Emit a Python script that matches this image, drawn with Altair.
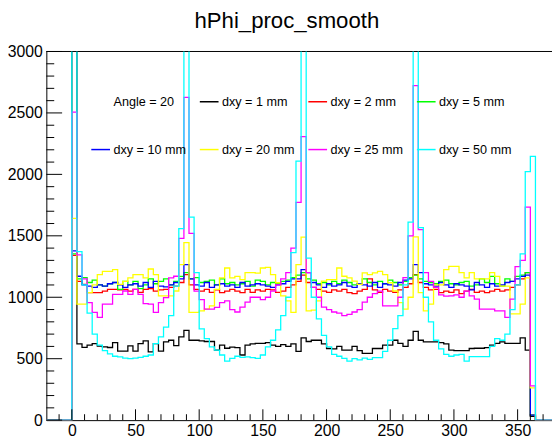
import altair as alt
import pandas as pd

# ---- data (bin contents, 4-degree bins starting at 0) ----
bin_width = 4
x_lo, x_hi = -20, 380

black = [3500,
 620, 592, 610, 622, 602, 596, 591, 631, 562, 562, 604, 562, 623, 645, 556, 623, 562, 637, 650, 607, 677,
 730,
 650, 650, 645, 640, 640, 570, 610, 585, 595, 590, 530, 610, 620, 625, 625, 630, 610, 600, 615, 600, 620, 560,
 669,
 640, 650, 650, 620, 583, 580, 600, 570, 570, 600, 565, 543, 543, 583, 583, 610, 610, 650, 625, 600, 650,
 722,
 650, 637, 637, 637, 630, 620, 570, 565, 565, 565, 583, 585, 585, 590, 610, 625, 637, 625, 625, 625, 669,
 570, 30]

red = [1340,
 1130, 1104, 1037, 1037, 1037, 1050, 1064, 1064, 1060, 1064, 1050, 1064, 1040, 1064, 1070, 1050, 1060, 1064, 1080, 1090, 1120,
 1185,
 1100, 1064, 1050, 1064, 1040, 1060, 1037, 1050, 1064, 1050, 1037, 1064, 1040, 1060, 1050, 1064, 1060, 1040, 1050, 1080, 1100, 1130,
 1180,
 1120, 1080, 1064, 1050, 1040, 1060, 1050, 1064, 1037, 1030, 1050, 1064, 1150, 1060, 1040, 1064, 1050, 1040, 1060, 1080, 1110,
 1185,
 1120, 1080, 1060, 1064, 1037, 1050, 1040, 1060, 1030, 1050, 1064, 1040, 1050, 1037, 1050, 1064, 1050, 1060, 1080, 1100, 1150,
 1200, 40]

green = [1353,
 1150, 1160, 1120, 1140, 1100, 1090, 1110, 1120, 1064, 1130, 1100, 1130, 1070, 1100, 1150, 1110, 1130, 1150, 1100, 1130, 1170,
 1200,
 1150, 1160, 1120, 1130, 1140, 1100, 1150, 1110, 1120, 1100, 1110, 1130, 1090, 1140, 1130, 1100, 1120, 1110, 1130, 1140, 1160, 1180,
 1200,
 1150, 1140, 1110, 1120, 1100, 1130, 1110, 1140, 1120, 1100, 1110, 1150, 1120, 1100, 1130, 1110, 1140, 1120, 1100, 1130, 1160,
 1180,
 1150, 1130, 1120, 1110, 1130, 1140, 1110, 1100, 1120, 1130, 1090, 1100, 1150, 1120, 1170, 1110, 1090, 1150, 1130, 1170, 1180,
 1200, 40]

blue = [1377,
 1171, 1100, 1090, 1080, 1100, 1090, 1110, 1120, 1100, 1080, 1100, 1110, 1090, 1120, 1080, 1130, 1090, 1085, 1100, 1120, 1150,
 1265,
 1150, 1100, 1090, 1120, 1080, 1100, 1110, 1090, 1100, 1080, 1120, 1090, 1100, 1110, 1100, 1090, 1080, 1100, 1110, 1130, 1150, 1150,
 1225,
 1200, 1120, 1100, 1080, 1110, 1090, 1100, 1120, 1090, 1080, 1110, 1100, 1090, 1120, 1080, 1110, 1100, 1090, 1120, 1140, 1150,
 1265,
 1200, 1110, 1100, 1090, 1120, 1100, 1080, 1110, 1100, 1090, 1060, 1120, 1100, 1080, 1110, 1090, 1100, 1120, 1130, 1150, 1170,
 1180, 40]

yellow = [1642,
 944, 944, 1037, 1100, 1185, 1211, 1211, 1225, 1104, 1130, 1158, 1185, 1185, 1158, 1230, 1185, 1011, 1011, 1011, 1051, 1265,
 1444,
 877, 877, 890, 904, 930, 1064, 1158, 1238, 1158, 1170, 1144, 1200, 1200, 1197, 1238, 1244, 1185, 1118, 1011, 971, 877, 1265,
 1490,
 890, 896, 971, 1131, 1144, 1144, 1238, 1171, 1158, 1131, 1104, 1198, 1185, 1198, 1211, 1185, 1118, 1051, 957, 904, 1000,
 1492,
 1037, 890, 944, 1100, 1100, 1225, 1252, 1252, 1200, 1158, 1200, 1150, 1150, 1150, 1200, 1170, 1090, 1090, 864, 864, 944,
 1158, 262]

magenta = [2507,
 1345, 1150, 957, 877, 837, 944, 944, 1024, 1024, 1051, 1024, 1064, 1024, 949, 944, 877, 957, 997, 1158, 1171, 1480,
 2627,
 1520, 1050, 980, 904, 904, 917, 957, 970, 900, 880, 920, 960, 1000, 1000, 980, 1000, 1050, 1100, 1150, 1200, 1400, 1773,
 2308,
 1200, 1080, 1000, 920, 900, 880, 870, 850, 860, 880, 900, 960, 1000, 1030, 1050, 930, 930, 930, 1000, 1160, 1500,
 2722,
 1550, 1200, 1130, 1080, 1020, 1010, 1011, 1020, 1000, 1050, 1011, 984, 904, 904, 904, 890, 890, 837, 984, 1250, 1300,
 1733, 278]

cyan = [3500,
 1372, 1100, 870, 700, 610, 565, 540, 520, 515, 505, 500, 505, 510, 520, 530, 623, 677, 757, 850, 1091, 1559,
 3500,
 1652, 1200, 743, 663, 597, 570, 530, 481, 503, 520, 510, 515, 508, 503, 530, 597, 650, 735, 850, 1000, 1364, 2107,
 3500,
 1318, 1000, 824, 690, 597, 535, 520, 503, 481, 500, 490, 505, 495, 508, 508, 560, 650, 744, 850, 1100, 1612,
 3500,
 1567, 1000, 800, 650, 580, 535, 520, 530, 535, 481, 516, 516, 516, 516, 600, 663, 650, 700, 900, 1100, 1353,
 2022, 2147]

labels = ["dxy = 1 mm", "dxy = 2 mm", "dxy = 5 mm", "dxy = 10 mm",
          "dxy = 20 mm", "dxy = 25 mm", "dxy = 50 mm"]
colors = ["#000000", "#ff0000", "#00ff00", "#0000ff", "#ffff00", "#ff00ff", "#00ffff"]
values = [black, red, green, blue, yellow, magenta, cyan]

title_text = "hPhi_proc_smooth"
header_text = "Angle = 20"
y_major = list(range(0, 3001, 500))
y_minor = [v for v in range(0, 3001, 100) if v % 500]
x_major = list(range(0, 351, 50))
x_minor = [v for v in range(-10, 371, 10) if v % 50]

# ---- layout ----
W, H = 513, 374
FONT = "Liberation Sans"
x_scale = alt.Scale(domain=[-20, 377], nice=False, zero=False)
y_scale = alt.Scale(domain=[0, 3000], nice=False, zero=False)

def hist_frame(vals):
    assert len(vals) == 91
    n_pre = (0 - x_lo) // bin_width
    contents = [0] * n_pre + list(vals)
    n_total = (x_hi - x_lo) // bin_width
    contents += [0] * (n_total - len(contents))
    edges = [x_lo + bin_width * i for i in range(n_total)] + [x_hi]
    contents = contents + [0]
    return pd.DataFrame({"x": edges, "y": contents})

layers = []
# top frame line
layers.append(alt.Chart(pd.DataFrame({"y": [3000]})).mark_rule(color="black", strokeWidth=1).encode(
    y=alt.Y("y:Q", scale=y_scale)))

for lab, col, vals in zip(labels, colors, values):
    df = hist_frame(vals)
    layers.append(
        alt.Chart(df).mark_line(interpolate="step-after", color=col, strokeWidth=1.3, clip=True).encode(
            x=alt.X("x:Q", scale=x_scale,
                    axis=alt.Axis(values=x_major, format="d", title=None, grid=False, ticks=False,
                                  labelFontSize=16, labelFont=FONT, labelColor="black", labelPadding=3,
                                  domainColor="black", labelFlush=False)),
            y=alt.Y("y:Q", scale=y_scale,
                    axis=alt.Axis(values=y_major, format="d", title=None, grid=False, ticks=False,
                                  labelFontSize=16, labelFont=FONT, labelColor="black", labelPadding=4,
                                  domainColor="black", labelFlush=False)),
        )
    )

# axis ticks drawn inward
layers.append(alt.Chart(pd.DataFrame({"v": y_major})).mark_rule(color="black").encode(
    y=alt.Y("v:Q", scale=y_scale), x=alt.value(0), x2=alt.value(16)))
layers.append(alt.Chart(pd.DataFrame({"v": y_minor})).mark_rule(color="black").encode(
    y=alt.Y("v:Q", scale=y_scale), x=alt.value(0), x2=alt.value(8)))
layers.append(alt.Chart(pd.DataFrame({"v": x_major})).mark_rule(color="black").encode(
    x=alt.X("v:Q", scale=x_scale), y=alt.value(H), y2=alt.value(H - 11)))
layers.append(alt.Chart(pd.DataFrame({"v": x_minor})).mark_rule(color="black").encode(
    x=alt.X("v:Q", scale=x_scale), y=alt.value(H), y2=alt.value(H - 6)))

# legend (4 columns x 2 rows, header in first cell)
col_line_x = 45.6
col_step = 110.1
row_y = [51, 99.5]
cells = [(header_text, None)] + list(zip(labels, colors))
for k, (lab, col) in enumerate(cells):
    r, c = divmod(k, 4)
    lx = col_line_x + c * col_step
    ty = row_y[r]
    if col is not None:
        layers.append(alt.Chart(pd.DataFrame({"t": [lab]})).mark_rule(color=col, strokeWidth=1.5).encode(
            x=alt.value(lx), x2=alt.value(lx + 19), y=alt.value(ty)))
    layers.append(alt.Chart(pd.DataFrame({"t": [lab]})).mark_text(
        align="left", baseline="middle", fontSize=12.8, font=FONT, color="black").encode(
        text="t:N", x=alt.value(lx + 22.5), y=alt.value(ty)))

# title
layers.append(alt.Chart(pd.DataFrame({"t": [title_text]})).mark_text(
    align="center", baseline="alphabetic", fontSize=22.5, font=FONT, color="black").encode(
    text="t:N", x=alt.value(244), y=alt.value(-24)))

chart = alt.layer(*layers).properties(
    width=W, height=H,
    padding={"left": 38.9, "top": 41, "right": 0, "bottom": 15},
    autosize=alt.AutoSizeParams(type="none"),
    background="white",
).configure_view(stroke=None)

chart.save("out.html", embed_options={"renderer": "svg", "actions": False})
